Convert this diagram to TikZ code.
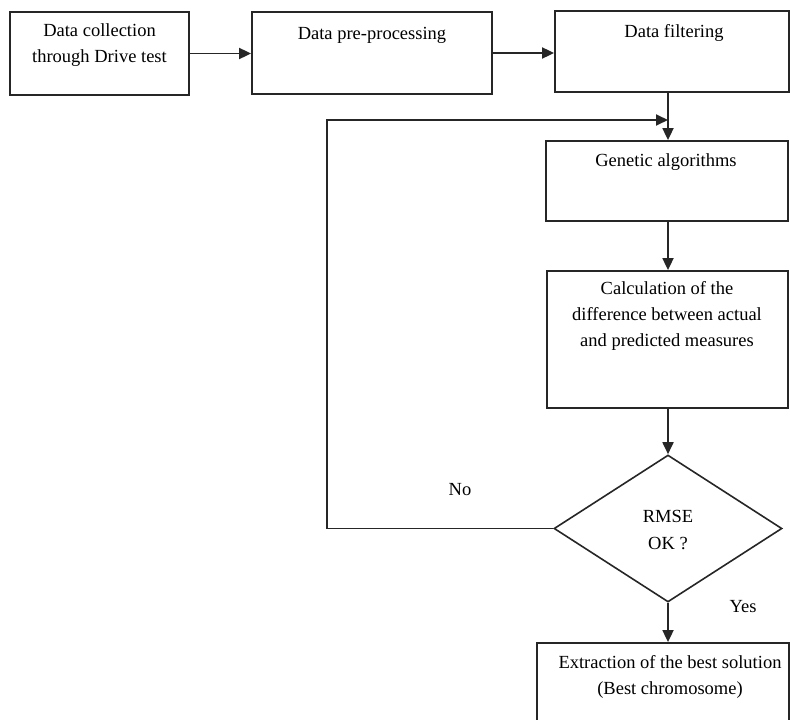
\documentclass[tikz,border=0pt]{standalone}
\usepackage{fontspec}
\setmainfont{Liberation Serif}
\usetikzlibrary{arrows.meta,shapes.geometric}
\begin{document}
\begin{tikzpicture}[x=1pt,y=-1pt,
  box/.style={draw=black!85,line width=1.8pt,rectangle,inner sep=0pt},
  dia/.style={draw=black!85,line width=1.6pt,diamond,inner sep=0pt},
  txt/.style={inner sep=0pt,align=center,font=\fontsize{18.5}{26}\selectfont},
  conn/.style={draw=black!85,line width=1.8pt,-{Triangle[length=12pt,width=11pt]}},
  plain/.style={draw=black!85,line width=1.8pt}]
\useasboundingbox (0,0) rectangle (790,720);
\clip (0,0) rectangle (790,720);
% boxes
\node[box,minimum width=179pt,minimum height=83pt] (b1) at (99.5,53.5) {};
\node[box,minimum width=240pt,minimum height=82pt] (b2) at (372,53) {};
\node[box,minimum width=234pt,minimum height=81pt] (b3) at (672,51.5) {};
\node[box,minimum width=242pt,minimum height=80pt] (b4) at (667,181) {};
\node[box,minimum width=241pt,minimum height=137pt] (b5) at (667.5,339.5) {};
\node[dia,minimum width=228pt,minimum height=147pt] (d) at (668,528.5) {};
\node[box,minimum width=252pt,minimum height=100pt] (b6) at (663,693) {};
% texts
\node[txt] (t1) at (99.5,45) {Data collection\\through Drive test};
\node[txt] (t2) at (372,35) {Data pre-processing};
\node[txt] (t3) at (674,33) {Data filtering};
\node[txt] (t4) at (666,162) {Genetic algorithms};
\node[txt] (t5) at (667,316) {Calculation of the\\difference between actual\\and predicted measures};
\node[txt] (t6) at (668,530) {RMSE\\OK ?};
\node[txt] (t7) at (670,677) {Extraction of the best solution\\(Best chromosome)};
\node[txt] (no) at (460,490) {No};
\node[txt] (yes) at (743,607) {Yes};
% connectors
\coordinate (fb) at (327,120);
\coordinate (join) at (668,120);
\draw[conn] (b1.east) -- (b1.east -| b2.west);
\draw[conn] (b2.east) -- (b2.east -| b3.west);
\draw[conn] (join |- b3.south) -- (join |- b4.north);
\draw[conn] (d.west) -| (fb) -- (join);
\draw[conn] (d.north |- b4.south) -- (d.north |- b5.north);
\draw[conn] (d.north |- b5.south) -- (d.north);
\draw[conn] (d.south) -- (d.south |- b6.north);
\end{tikzpicture}
\end{document}
